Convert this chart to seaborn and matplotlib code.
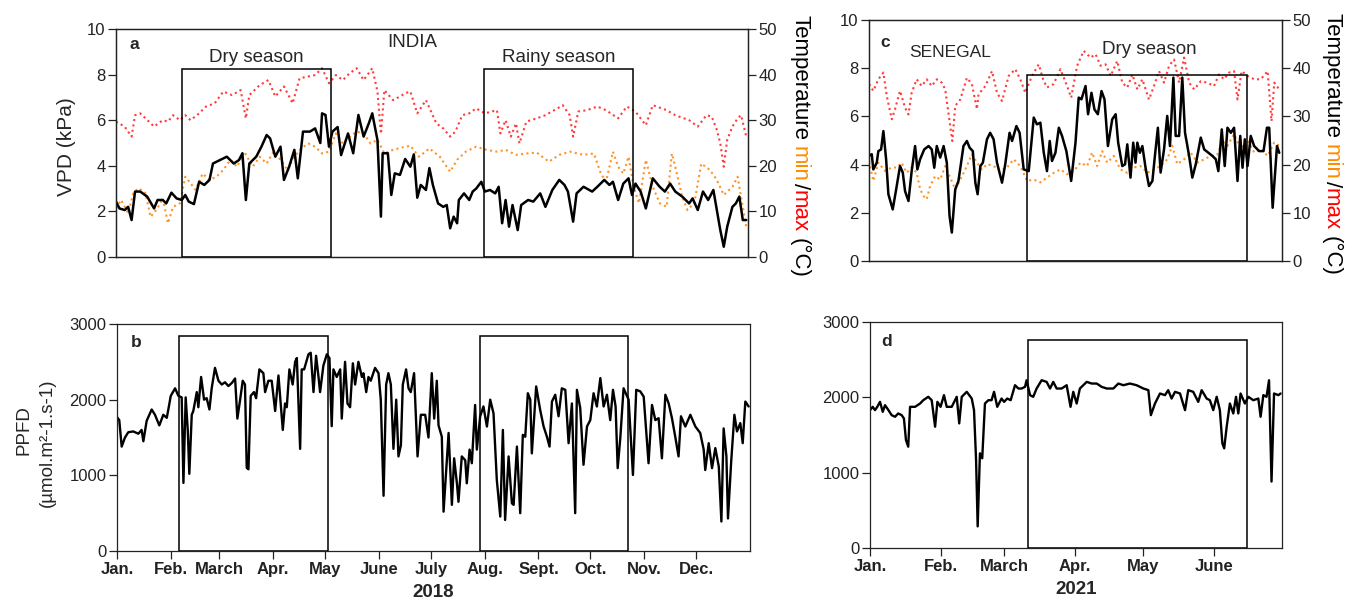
import numpy as np
import pandas as pd
import matplotlib
matplotlib.use("Agg")
import matplotlib.pyplot as plt
import seaborn as sns
from matplotlib.patches import Rectangle

# ---------------- INDIA 2018 (day of year) ----------------
vpd_in_day = [0, 2, 5, 7, 9, 11, 14, 18, 22, 24, 27, 29, 32, 35, 38, 40, 42, 45, 48, 51, 54, 56, 60, 64, 68,
              71, 73, 75, 77, 81, 84, 87, 89, 92, 95, 97, 100, 103, 105, 108, 112, 115, 118, 119, 121, 123,
              125, 128, 130, 134, 137, 140, 143, 146, 148, 151, 153, 154, 157, 159, 161, 164, 167, 170, 172,
              174, 176, 179, 181, 183, 186, 189, 191, 193, 195, 197, 198, 201, 204, 206, 208, 211, 213, 216,
              219, 221, 223, 225, 227, 229, 232, 234, 238, 241, 245, 248, 252, 256, 259, 261, 264, 266, 270,
              275, 278, 282, 285, 287, 290, 293, 296, 298, 300, 303, 306, 310, 314, 317, 320, 323, 327, 331,
              333, 336, 339, 342, 345, 347, 349, 351, 353, 356, 358, 360, 362, 364]
vpd_in = [2.43, 2.13, 2.06, 2.2, 1.62, 2.87, 2.87, 2.65, 2.13, 2.5, 2.5, 2.35, 2.82, 2.57, 2.5, 2.72, 2.43, 2.32,
          3.3, 3.16, 3.38, 4.1, 4.25, 4.4, 4.1, 4.25, 4.55, 2.5, 4.1, 4.4, 4.84, 5.35, 5.2, 4.4, 4.84, 3.38,
          3.96, 4.7, 3.45, 5.5, 5.5, 5.64, 5.0, 6.3, 6.23, 4.84, 5.5, 5.7, 4.47, 5.42, 4.55, 6.23, 5.28, 5.86,
          6.3, 5.13, 1.77, 4.55, 4.55, 2.72, 3.67, 3.6, 4.3, 3.96, 4.5, 2.6, 3.16, 2.94, 3.9, 3.16, 2.35, 2.2,
          2.28, 1.26, 1.77, 1.48, 2.5, 2.79, 2.5, 2.87, 3.0, 3.3, 2.87, 2.94, 2.79, 3.08, 1.48, 2.5, 1.33, 2.28,
          1.18, 2.28, 2.5, 2.43, 2.79, 2.2, 2.94, 3.38, 3.16, 2.87, 1.55, 2.79, 3.08, 2.87, 3.08, 3.38, 3.16,
          3.3, 2.5, 3.22, 3.45, 2.72, 3.22, 2.87, 2.13, 3.45, 3.08, 2.87, 3.22, 2.87, 2.65, 2.35, 2.57, 2.06,
          2.87, 2.5, 2.94, 2.06, 1.18, 0.45, 1.33, 2.2, 2.35, 2.65, 1.62, 1.62]

tmax_in_day = [0, 5, 9, 11, 14, 19, 22, 27, 30, 33, 37, 40, 43, 48, 52, 57, 62, 67, 72, 75, 77, 83, 88, 92, 97,
               102, 106, 110, 115, 119, 123, 127, 131, 135, 139, 143, 148, 151, 153, 155, 160, 164, 167, 170,
               174, 179, 185, 189, 193, 196, 200, 204, 208, 213, 220, 222, 225, 228, 231, 233, 237, 243, 248,
               255, 258, 262, 264, 267, 272, 278, 283, 290, 295, 300, 306, 310, 318, 323, 331, 336, 341, 344,
               347, 349, 351, 353, 356, 359, 361, 364]
tmax_in = [29.7, 28.6, 26.4, 31.1, 31.5, 29.7, 28.6, 30, 29.7, 31.1, 30, 31.1, 30, 31.5, 33, 33.7, 36.3, 35.5,
           36.6, 30.4, 35.5, 37.7, 38.8, 35.2, 37.4, 33.7, 39.2, 39.5, 39.9, 41.4, 38.1, 39.9, 38.8, 40.3, 41.4,
           38.8, 41.4, 36.3, 27, 36.6, 34.4, 35.2, 35.9, 36.3, 31.5, 34.4, 29.3, 28.2, 26.4, 27.5, 31.1, 31.5,
           32.6, 31.5, 32.2, 27.1, 30, 26.4, 29.3, 24.9, 29.7, 30.4, 31.1, 32.6, 33.3, 31.1, 26.4, 31.9, 32.2,
           33, 32.2, 30.4, 33, 31.9, 28.9, 33.3, 32.2, 31.1, 30, 28.6, 31.1, 30.8, 27.9, 24.9, 19.8, 25.7, 28.6,
           30.4, 31.1, 26.4]

tmin_in_day = [0, 3, 7, 10, 13, 17, 20, 24, 27, 30, 33, 37, 40, 43, 46, 50, 54, 58, 62, 66, 70, 74, 79, 83, 87,
               91, 95, 99, 103, 107, 111, 115, 119, 123, 127, 131, 135, 139, 143, 147, 151, 155, 160, 165, 170,
               175, 181, 187, 193, 197, 202, 208, 214, 220, 225, 231, 237, 243, 250, 256, 262, 270, 276, 280,
               283, 287, 290, 293, 296, 299, 302, 306, 310, 314, 318, 321, 323, 327, 330, 334, 338, 343, 347,
               351, 356, 359, 362, 364]
tmin_in = [10.7, 12.5, 9.6, 14, 15.1, 14, 8.8, 10.7, 12.9, 7.4, 11, 11.8, 17.6, 16.2, 14.7, 18.3, 16.9, 17.6,
           19.1, 21.3, 19.8, 23.1, 19.8, 22, 20.5, 23.1, 21.3, 19.1, 22, 23.8, 24.9, 24.2, 22.7, 23.1, 27.1,
           24.9, 26.4, 27.5, 27.1, 24.9, 25.7, 22.7, 23.5, 24, 24.4, 22, 23.8, 22, 18.7, 21.3, 23.1, 24.2, 23.5,
           23.1, 23.5, 22.4, 22.7, 22.9, 20.9, 22.4, 23.1, 22.4, 22.7, 18.3, 16.5, 23.1, 19.8, 18.3, 22, 15.4,
           11.8, 21.3, 15.4, 11.8, 11, 22.7, 19.8, 13.2, 10.3, 11.8, 20.5, 19.1, 16.9, 13.6, 15.4, 17.6, 11, 6.6]

ppfd_in_day = [0, 1.3, 2.7, 4.6, 6.5, 9.4, 12.3, 14.2, 15.2, 17.1, 20, 21.9, 24.4, 26.7, 28.7, 29.6, 31, 33.5,
               35.4, 37.3, 38.3, 39.6, 40.8, 41.7, 43.1, 44, 46, 46.9, 48.5, 50.2, 51.7, 53.3, 54.6, 56.5, 58.5,
               60.4, 62.3, 64.2, 66.2, 68.1, 69.4, 71, 72.5, 73.8, 74.8, 75.8, 77.1, 79, 80.2, 82.1, 84.4, 85.4,
               87.3, 89.2, 91.2, 93.1, 95.6, 96.9, 97.9, 99.4, 101.3, 102.7, 103.7, 105.6, 106.5, 107.9, 110.4,
               111.7, 113.3, 114.8, 116.2, 117.1, 119, 121, 122.5, 123.8, 124.8, 126.7, 128.7, 129.6, 131.5,
               132.9, 134.4, 136, 137.3, 139.2, 141.2, 142.1, 143.7, 145, 146.3, 148.8, 150.8, 152.1, 153.7,
               155.2, 156.5, 157.9, 159.4, 161, 162.3, 163.7, 164.8, 166.7, 168.1, 169.4, 171.3, 173.3, 175.2,
               177.7, 179.6, 181.5, 182.9, 184.4, 185.4, 187.3, 188.3, 191.2, 193.1, 194.4, 196, 196.9, 198.8,
               200.8, 201.7, 203.3, 204.6, 206.5, 207.5, 209.4, 211.3, 213.3, 215.2, 217.1, 219, 221, 222.5,
               223.8, 225.8, 227.7, 228.7, 230.6, 232.5, 234, 235.4, 236.9, 238.3, 239.2, 241.7, 244, 246,
               247.9, 249.4, 250.8, 252.7, 254.6, 256.5, 258.5, 260.4, 262.3, 264.2, 265.2, 267.1, 269, 271,
               272.9, 274.8, 276.7, 278.7, 280.6, 282.5, 284.4, 286, 287.5, 288.7, 290.2, 292.1, 295, 297.5,
               299.4, 301.7, 303.7, 306.5, 308.5, 310.4, 312.3, 314.2, 316.2, 318.1, 320, 321.9, 323.8, 325.2,
               327.7, 330.6, 333.5, 336.3, 338.3, 339.2, 341.2, 343.1, 345, 347, 348.5, 349.8, 351.4, 352.3,
               354.2, 356, 357.5, 359.4, 360.8, 362.3, 364.2]
ppfd_in = [1770, 1730, 1380, 1500, 1570, 1580, 1550, 1600, 1450, 1720, 1870, 1800, 1660, 1800, 1760, 1870, 2050,
           2150, 2050, 2030, 900, 2030, 1600, 1020, 1800, 1850, 2100, 1900, 2300, 2000, 2020, 1870, 2150, 2420,
           2250, 2200, 2230, 2180, 2220, 2280, 1750, 2000, 2250, 2200, 1100, 1080, 2050, 2100, 2020, 2400, 2350,
           2100, 2250, 2250, 1850, 2320, 1600, 1950, 1900, 2400, 2200, 2500, 2550, 1350, 2400, 2400, 2600, 2620,
           2100, 2580, 2300, 2100, 2450, 2600, 2550, 1650, 2400, 2300, 2400, 1750, 2500, 1950, 1900, 2480, 2200,
           2500, 2300, 2350, 2100, 2300, 2250, 2420, 2350, 2000, 730, 2200, 2350, 2200, 1350, 2000, 1250, 1400,
           2200, 2400, 2150, 2100, 2350, 1250, 1800, 1800, 1500, 2350, 1750, 2250, 1660, 1510, 520, 1560, 610,
           1225, 895, 650, 1250, 1200, 895, 1340, 1160, 1930, 1340, 1780, 1910, 1645, 2000, 1820, 940, 455, 1600,
           410, 1250, 630, 610, 1380, 500, 1535, 1510, 2085, 2000, 1290, 2175, 1865, 1645, 1510, 1380, 1975,
           2065, 1780, 2150, 2130, 1425, 1950, 500, 2130, 1890, 1140, 1645, 1730, 2085, 1910, 2285, 1910, 2065,
           1730, 2130, 1910, 1095, 1490, 2150, 2000, 1005, 2130, 2110, 2040, 1160, 1930, 1730, 1755, 1225, 2065,
           1950, 1755, 1510, 1250, 1780, 1645, 1800, 1645, 1560, 1340, 1070, 1425, 1095, 1360, 1115, 390, 1620,
           1250, 430, 1200, 1800, 1580, 1690, 1425, 1975, 1910]

# ---------------- SENEGAL 2021 (day of year) ----------------
vpd_sn_day = [0, 1.2, 1.9, 3.4, 4.1, 5.3, 6.3, 7.5, 8.5, 10.4, 11.9, 13.6, 14.8, 15.8, 17.3, 18.7, 20.2, 21.2,
              22.4, 24.2, 26.1, 27.5, 28.6, 29.7, 31.2, 32.7, 34.1, 35.3, 36.3, 37.8, 39.2, 41.4, 42.9, 44.1,
              45.5, 46.6, 47.6, 48.8, 49.9, 51.7, 53.1, 54.6, 56.1, 58.3, 59.7, 61.6, 62.7, 64.6, 66, 67.8, 70,
              72.2, 73.6, 75.1, 76.6, 78, 79.2, 80.2, 81.7, 83.2, 84.6, 86.5, 88.6, 90.5, 91.9, 93.1, 94.9, 96,
              97.5, 98.8, 100.3, 101.9, 103.2, 104.7, 106.6, 108.1, 109.2, 111, 112.2, 113.2, 114.6, 115.8,
              116.8, 117.6, 118.7, 119.8, 121.2, 122.7, 124.2, 125.3, 126.6, 127.8, 129.3, 130.7, 131.9, 133.4,
              134.4, 135.9, 137.3, 138.5, 140.3, 141.7, 143.2, 145.4, 146.9, 148.8, 150.5, 152, 153.1, 154.6,
              155.9, 157.1, 158.6, 160, 161.5, 162.7, 163.7, 164.7, 165.9, 167.3, 168.8, 171, 172.9, 174.4,
              175.4, 176.9, 178.8, 179.8]
vpd_sn = [4.36, 4.43, 3.8, 4.08, 4.56, 4.63, 5.39, 4.22, 2.77, 2.14, 2.97, 3.94, 3.67, 2.9, 2.49, 3.73, 4.77,
          3.8, 4.22, 4.63, 4.77, 4.63, 3.87, 4.77, 4.29, 4.77, 4.08, 1.87, 1.18, 2.97, 3.32, 4.77, 4.98, 4.7,
          4.56, 3.25, 2.77, 3.94, 4.08, 5.05, 5.32, 5.05, 4.08, 3.25, 4.01, 5.32, 4.98, 5.6, 5.32, 3.8, 3.73,
          5.95, 5.67, 5.74, 4.49, 3.73, 4.98, 4.15, 4.49, 5.53, 5.19, 4.56, 3.32, 4.91, 6.78, 6.71, 7.26, 6.09,
          6.98, 6.29, 6.09, 7.05, 6.71, 4.77, 5.88, 6.09, 4.91, 3.94, 4.01, 4.84, 3.46, 4.91, 4.08, 4.91, 4.49,
          4.77, 3.87, 3.11, 3.32, 4.36, 5.53, 3.67, 4.63, 6.02, 4.77, 7.61, 5.19, 5.19, 7.61, 5.32, 4.36, 3.46,
          4.01, 5.12, 4.63, 4.49, 4.36, 4.22, 3.73, 5.46, 3.94, 5.53, 5.32, 5.53, 3.32, 5.19, 3.87, 5.05, 3.94,
          5.19, 4.77, 4.56, 4.56, 5.53, 5.53, 2.21, 4.77, 4.49]

tmax_sn_day = [0, 1.9, 4.1, 6.3, 7.8, 10, 11.4, 13.6, 15.8, 17.3, 18.7, 20.9, 23.1, 25.3, 27.5, 29.7, 31.9, 33.4,
               35.6, 36.5, 37.8, 40, 42.9, 45.1, 47.3, 48, 51, 53.9, 56.1, 58.3, 61.2, 64.1, 66.3, 68.5, 71.4,
               74.4, 76.3, 78, 80.9, 83.9, 86.8, 88.6, 91.2, 94.1, 97.1, 99.3, 101.5, 103.7, 105.9, 108.8, 111,
               113.2, 115.4, 117.6, 119.8, 122.7, 124.9, 127.1, 129.3, 131.5, 133.7, 135.9, 138.1, 140.3, 142.5,
               145.4, 148.3, 151.2, 153.4, 155.6, 157.8, 160, 161.5, 163.3, 165.9, 168.8, 171.7, 174.7, 176.4,
               177.6, 179.8]
tmax_sn = [36.7, 35.3, 37.7, 39.1, 34.2, 29.4, 31.5, 35.3, 31.8, 30.4, 34.9, 37.7, 36.3, 37.7, 36.3, 37.7, 37,
           35.6, 28, 24.9, 32.2, 33.5, 38, 36.7, 31.5, 34.6, 36.3, 39.4, 34.9, 33.2, 38.4, 39.8, 37.7, 34.9, 38.4,
           40.8, 37.7, 36, 36.7, 39.8, 36.3, 33.9, 40.5, 43.6, 42.2, 42.9, 40.5, 40.8, 38.4, 41.5, 37, 36, 38.7,
           35.6, 37.7, 33.5, 36.3, 39.4, 37, 40.5, 41.8, 37, 42.2, 37, 35.6, 37.3, 37, 36.3, 38.7, 37.7, 39.1,
           39.4, 33.5, 39.4, 38.4, 37.7, 37.7, 39.4, 29, 37, 35.6]

tmin_sn_day = [0, 1.9, 4.1, 7, 10, 12.2, 14.3, 16.5, 18.7, 20.9, 22.4, 23.9, 25.3, 26.8, 29, 31.2, 33.4, 35.6,
               37.8, 40, 42.2, 45.1, 47.3, 49.5, 51.7, 54.6, 57.5, 60.5, 63.4, 66.3, 69.3, 72.2, 75.1, 78, 81,
               83.9, 86.8, 89.8, 92.7, 95.6, 97.8, 100, 102.2, 104.4, 107.3, 110.2, 113.2, 116.1, 119, 122,
               124.9, 127.8, 130.7, 132.9, 135.1, 138.1, 141, 143.9, 146.9, 149.8, 152.7, 154.9, 157.1, 160, 163,
               165.9, 168.8, 171.7, 174.7, 177.6, 179.8]
tmin_sn = [20.7, 16.6, 20.4, 18.7, 19.4, 19.4, 20.4, 18.3, 19.4, 18.3, 14.9, 13.5, 12.8, 15.6, 17.6, 16.9, 19.7,
           17.3, 14.9, 16.9, 19, 22.1, 20.4, 19, 20.1, 19.7, 18.7, 19.4, 21.1, 19.7, 16.6, 16.9, 16.3, 17.3, 18.3,
           19, 18, 18.7, 20.4, 19.7, 22.5, 19.7, 22.8, 20.4, 21.8, 19, 18.3, 19.4, 19.7, 18.3, 19, 19.7, 21.1,
           23.9, 20.1, 21.1, 22.5, 20.4, 21.1, 21.8, 22.1, 24.9, 23.9, 26.3, 23.2, 25.2, 22.5, 23.2, 21.8, 24.6,
           23.9]

ppfd_sn_day = [0, 1.2, 2.2, 3.2, 4.4, 5.6, 6.6, 8.1, 9.5, 11, 12.4, 13.9, 14.9, 15.8, 16.8, 17.6, 19.8, 22, 23.4,
               25.6, 27.1, 28.6, 29.6, 31, 32.5, 33.7, 35.9, 38.1, 39.2, 40.3, 42.5, 44.7, 45.7, 46.6, 47.3, 48.3,
               49.3, 50.5, 52, 53.4, 54.5, 55.9, 57.8, 58.9, 60.3, 61.8, 63.7, 65.2, 66.6, 68.1, 68.8, 70.3, 71.7,
               73.2, 75.4, 77.6, 79.1, 80.5, 82, 84.2, 86.4, 88.1, 89.3, 90.8, 92.2, 95.2, 97.4, 99.6, 101.8, 104,
               106.9, 109.1, 111.3, 114.2, 117.1, 120.1, 122.3, 123.4, 125.2, 127.4, 129.6, 131, 132.5, 134,
               136.2, 138.4, 139.8, 142, 144.2, 145.7, 147.9, 149.3, 150.8, 152.3, 153.7, 154.8, 155.6, 156.7,
               158.1, 159.6, 160.8, 161.8, 162.8, 164.7, 166.2, 168.4, 170.6, 171.6, 172.8, 174.2, 175.3, 176.4,
               177.5, 179.4, 180.4]
ppfd_sn = [1830, 1874, 1830, 1874, 1940, 1808, 1896, 1830, 1764, 1742, 1786, 1764, 1720, 1433, 1345, 1874, 1874,
           1918, 1962, 2007, 1962, 1610, 1940, 1874, 2029, 1874, 1874, 2007, 1654, 2007, 2073, 1984, 1830, 1169,
           287, 1257, 1191, 1918, 1962, 1962, 2073, 1874, 1984, 1940, 1984, 1962, 2161, 2117, 2117, 2139, 2227,
           2029, 2007, 2117, 2227, 2205, 2117, 2205, 2117, 2117, 2161, 1874, 2073, 1918, 2117, 2205, 2183, 2183,
           2139, 2117, 2117, 2183, 2161, 2183, 2161, 2117, 2095, 1764, 1918, 2051, 2029, 2095, 1984, 2073, 2051,
           1830, 2095, 2073, 1940, 2095, 1984, 1962, 1830, 2007, 1830, 1389, 1323, 1610, 1918, 1786, 2007, 1786,
           2051, 1918, 2007, 1962, 1984, 1742, 2029, 2007, 2227, 882, 2051, 2029, 2051]

# ---------------- labels ----------------
months_2018 = ["Jan.", "Feb.", "March", "Apr.", "May", "June", "July", "Aug.", "Sept.", "Oct.", "Nov.", "Dec."]
month_start_2018 = [0, 31, 59, 90, 120, 151, 181, 212, 243, 273, 304, 334]
months_2021 = ["Jan.", "Feb.", "March", "Apr.", "May", "June"]
month_start_2021 = [0, 31, 59, 90, 120, 151]

# season boxes: (start day, end day, top)
box_a = [(38, 124, 8.25), (212.6, 298.6, 8.25)]
box_b = [(35.8, 121.7, 2840), (209.3, 294.7, 2840)]
box_c = [(69.2, 165.6, 7.73)]
box_d = [(69.4, 165.6, 2755)]

RED = "#ff3b3b"
ORANGE = "#ff9326"
LABEL_RED = "#ff0000"
LABEL_ORANGE = "#ff8c00"

sns.set_theme(style="ticks")
plt.rcParams["font.family"] = ["Liberation Sans", "DejaVu Sans"]
plt.rcParams["axes.linewidth"] = 0.9
plt.rcParams["xtick.major.width"] = 0.9
plt.rcParams["ytick.major.width"] = 0.9
plt.rcParams["xtick.major.size"] = 6
plt.rcParams["ytick.major.size"] = 6

W, H = 1357, 602
fig = plt.figure(figsize=(W / 100, H / 100), dpi=100)
fig.patch.set_facecolor("white")


def px_axes(l, t, r, b):
    return fig.add_axes([l / W, 1 - b / H, (r - l) / W, (b - t) / H])


TICK_FS = 12


def temp_panel(l, t, r, b, vday, v, xday, xmax_, nday, nmin, xlim, boxes):
    base = px_axes(l, t, r, b)
    sns.lineplot(x=xday, y=xmax_, ax=base, color=RED, lw=1.5, linestyle=(0, (1, 1.6)), estimator=None,
                 sort=False)
    sns.lineplot(x=nday, y=nmin, ax=base, color=ORANGE, lw=1.5, linestyle=(0, (1, 1.6)), estimator=None,
                 sort=False)
    base.set_ylim(0, 50)
    base.set_yticks([0, 10, 20, 30, 40, 50])
    base.set_xlim(*xlim)
    base.set_xticks([])
    base.set_xlabel("")
    base.set_ylabel("")
    vax = base.twinx()
    # temperature axis on the right, VPD on the left (VPD line drawn on top)
    base.yaxis.tick_right()
    vax.yaxis.tick_left()
    base.tick_params(axis="y", labelsize=TICK_FS, colors="#222222", direction="out", pad=1.5)
    sns.lineplot(x=vday, y=v, ax=vax, color="black", lw=1.8, estimator=None, sort=False)
    vax.set_ylim(0, 10)
    vax.set_yticks([0, 2, 4, 6, 8, 10])
    vax.set_xlim(*xlim)
    vax.set_ylabel("")
    vax.set_xticks([])
    vax.tick_params(axis="y", labelsize=TICK_FS, colors="#222222", direction="out", pad=1.5)
    for (s, e, top) in boxes:
        vax.add_patch(Rectangle((s, 0), e - s, top, fill=False, lw=1.1, ec="black", zorder=5))
    for sp in list(base.spines.values()) + list(vax.spines.values()):
        sp.set_color("#222222")
    return base, vax


def ppfd_panel(l, t, r, b, day, val, xlim, ticks, labels, year, boxes):
    ax = px_axes(l, t, r, b)
    sns.lineplot(x=day, y=val, ax=ax, color="black", lw=1.7, estimator=None, sort=False)
    ax.set_xlim(*xlim)
    ax.set_ylim(0, 3000)
    ax.set_yticks([0, 1000, 2000, 3000])
    ax.set_xticks(ticks)
    ax.set_xticklabels(labels, fontweight="bold", fontsize=12)
    ax.tick_params(axis="y", labelsize=TICK_FS, colors="#222222", direction="out", pad=1.5)
    ax.tick_params(axis="x", colors="#222222", direction="out", pad=2)
    ax.set_ylabel("")
    ax.set_xlabel(year, fontweight="bold", fontsize=13.5, labelpad=5)
    for (s, e, top) in boxes:
        ax.add_patch(Rectangle((s, 0), e - s, top, fill=False, lw=1.1, ec="black", zorder=5))
    for sp in ax.spines.values():
        sp.set_color("#222222")
    return ax


baseA, axA = temp_panel(116, 29, 748, 257, vpd_in_day, vpd_in, tmax_in_day, tmax_in, tmin_in_day, tmin_in,
                        (0, 365), box_a)
baseC, axC = temp_panel(869, 20, 1282, 261, vpd_sn_day, vpd_sn, tmax_sn_day, tmax_sn, tmin_sn_day, tmin_sn,
                        (0, 181), box_c)
axB = ppfd_panel(117, 324, 750, 551, ppfd_in_day, ppfd_in, (0, 365), month_start_2018, months_2018, "2018",
                 box_b)
axD = ppfd_panel(870, 322, 1282, 548, ppfd_sn_day, ppfd_sn, (0, 181), month_start_2021, months_2021, "2021",
                 box_d)

# panel annotations
axA.text(8, 9.3, "a", fontweight="bold", fontsize=12.5, va="center", ha="left")
axA.text(81, 8.77, "Dry season", fontsize=13.5, va="center", ha="center")
axA.text(171, 9.39, "INDIA", fontsize=13.5, va="center", ha="center")
axA.text(255.6, 8.77, "Rainy season", fontsize=13.5, va="center", ha="center")
axC.text(5, 9.05, "c", fontweight="bold", fontsize=12.5, va="center", ha="left")
axC.text(35.5, 8.67, "SENEGAL", fontsize=12.5, va="center", ha="center")
axC.text(123, 8.76, "Dry season", fontsize=13.5, va="center", ha="center")
axB.text(8, 2750, "b", fontweight="bold", fontsize=12.5, va="center", ha="left")
axD.text(5, 2735, "d", fontweight="bold", fontsize=12.5, va="center", ha="left")

# left labels
fig.text(66 / W, 1 - 147 / H, "VPD (kPa)", rotation=90, fontsize=15, ha="center", va="center")
fig.text(24 / W, 1 - 430 / H, "PPFD", rotation=90, fontsize=13.5, ha="center", va="center")
fig.text(47 / W, 1 - 443 / H, "(µmol.m²-1.s-1)", rotation=90, fontsize=13.5, ha="center", va="center")

# multi-coloured rotated right labels
fig.canvas.draw()
renderer = fig.canvas.get_renderer()


def rotated_label(x_px, top_px, fs):
    space = 0.278 * fs * 100 / 72
    pieces = [("Temperature", "black", space), ("min", LABEL_ORANGE, 1.0), ("/", "black", 1.0),
              ("max", LABEL_RED, space), ("(°C)", "black", 0)]
    y = H - top_px
    for txt, col, gap in pieces:
        t = fig.text(x_px / W, y / H, txt, rotation=270, rotation_mode="anchor", ha="left", va="baseline",
                     fontsize=fs, color=col)
        bb = t.get_window_extent(renderer)
        y = bb.y0 - gap


rotated_label(794, 15, 16)
rotated_label(1326, 13, 16)

fig.savefig("out.png", dpi=100, facecolor="white")
